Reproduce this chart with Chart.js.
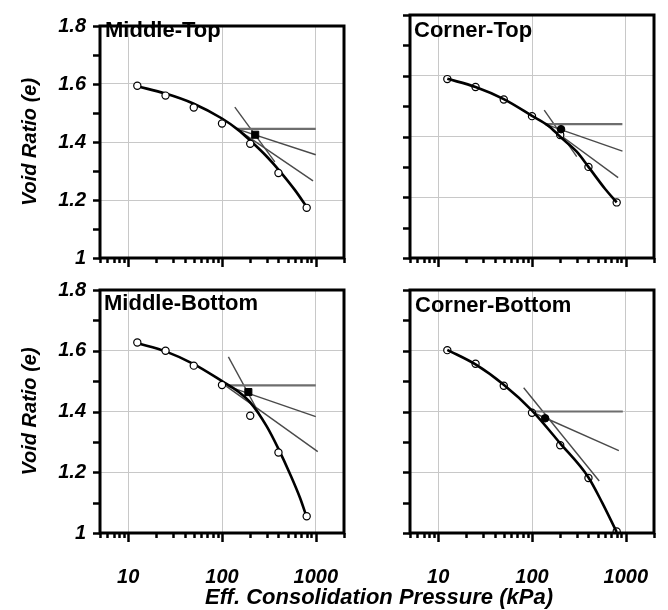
<!DOCTYPE html>
<html>
<head>
<meta charset="utf-8">
<script src="https://cdn.jsdelivr.net/npm/chart.js@4.4.1/dist/chart.umd.min.js"></script>
<style>
html,body{margin:0;padding:0;background:#fff;}
#wrap{position:relative;width:668px;height:610px;overflow:hidden;background:#fff;}
#wrap canvas{position:absolute;left:0;top:0;}
.lab{position:absolute;font-family:"Liberation Sans",Arial,sans-serif;font-weight:bold;font-size:22px;line-height:22px;color:#000;white-space:nowrap;}
#xtitle{position:absolute;left:0;top:586px;width:758px;text-align:center;font-family:"Liberation Sans",Arial,sans-serif;font-weight:bold;font-style:italic;font-size:22px;line-height:22px;color:#000;white-space:nowrap;}
</style>
</head>
<body>
<div id="wrap">
  <canvas id="cMT" width="700" height="640"></canvas>
  <canvas id="cCT" width="700" height="640"></canvas>
  <canvas id="cMB" width="700" height="640"></canvas>
  <canvas id="cCB" width="700" height="640"></canvas>
  <div class="lab" style="left:105px;top:19px;">Middle-Top</div>
  <div class="lab" style="left:414px;top:19px;">Corner-Top</div>
  <div class="lab" style="left:104px;top:292px;">Middle-Bottom</div>
  <div class="lab" style="left:415px;top:294px;">Corner-Bottom</div>
  <div id="xtitle">Eff. Consolidation Pressure (kPa)</div>
</div>
<script>
// ---------- axis ticks ----------
const xTickValues = [5,6,7,8,9,10,20,30,40,50,60,70,80,90,100,200,300,400,500,600,700,800,900,1000,2000];
const xMajorValues = [10,100,1000];
const xMajorLabels = ['10','100','1000'];
const yTickValues = [1,1.1,1.2,1.3,1.4,1.5,1.6,1.7,1.8];
const yLabelValues = [1,1.2,1.4,1.6,1.8];
const yLabels = ['1','1.2','1.4','1.6','1.8'];
const yGridValues = [1.2,1.4,1.6];

// ---------- measured data (pressure kPa, void ratio) ----------
const pressures = [12.5,25,50,100,200,400,800];

// Middle-Top
const mtVoid = [1.594,1.560,1.519,1.464,1.394,1.293,1.173];
const mtCurveP = [12.5,25,50,100,150,200,300,400,600,800];
const mtCurveE = [1.592,1.567,1.532,1.481,1.441,1.405,1.350,1.305,1.234,1.176];
const mtPcP = [226];       const mtPcE = [1.425];
const mtHorP = [143,1000]; const mtHorE = [1.4455,1.4455];
const mtBisP = [143,1000]; const mtBisE = [1.4455,1.356];
const mtTanP = [143,935];  const mtTanE = [1.4455,1.266];
const mtVclP = [137,366];  const mtVclE = [1.520,1.3315];

// Corner-Top
const ctVoid = [1.589,1.563,1.522,1.467,1.405,1.300,1.183];
const ctCurveP = [12.5,25,50,100,150,200,300,400,600,800];
const ctCurveE = [1.590,1.563,1.523,1.468,1.435,1.399,1.350,1.300,1.228,1.183];
const ctPcP = [204];       const ctPcE = [1.424];
const ctHorP = [138,920];  const ctHorE = [1.441,1.441];
const ctBisP = [138,922];  const ctBisE = [1.441,1.352];
const ctTanP = [138,829];  const ctTanE = [1.441,1.2644];
const ctVclP = [135,300];  const ctVclE = [1.487,1.3335];

// Middle-Bottom
const mbVoid = [1.627,1.600,1.551,1.487,1.386,1.265,1.055];
const mbCurveP = [12.5,25,50,100,150,200,300,400,530,680,800];
const mbCurveE = [1.625,1.598,1.556,1.500,1.465,1.430,1.351,1.277,1.195,1.115,1.052];
const mbPcP = [191];       const mbPcE = [1.464];
const mbHorP = [108,1000]; const mbHorE = [1.486,1.486];
const mbBisP = [108,1000]; const mbBisE = [1.486,1.383];
const mbTanP = [108,1050]; const mbTanE = [1.486,1.268];
const mbVclP = [117,254];  const mbVclE = [1.580,1.3885];

// Corner-Bottom
const cbVoid = [1.602,1.557,1.485,1.396,1.289,1.181,1.005];
const cbCurveP = [12.5,25,50,100,200,400,560,800];
const cbCurveE = [1.603,1.555,1.488,1.403,1.295,1.183,1.100,1.003];
const cbPcP = [138];       const cbPcE = [1.3776];
const cbHorP = [97,930];   const cbHorE = [1.40,1.40];
const cbBisP = [97,844];   const cbBisE = [1.40,1.271];
const cbVclP = [81.5,521]; const cbVclE = [1.478,1.171];

// ---------- styling ----------
const FAM = "'Liberation Sans', Arial, sans-serif";
const GRID = '#c8c8c8';
const NONE = 'rgba(0,0,0,0)';
const pts = (xs, ys) => xs.map((x, i) => ({x: x, y: ys[i]}));
const near = (arr, v) => arr.some(t => Math.abs(t - v) < 1e-9);

const framePlugin = {
  id: 'frame',
  afterDraw(chart) {
    const {ctx, chartArea: a, scales: {x, y}} = chart;
    ctx.save();
    ctx.strokeStyle = '#000';
    ctx.lineCap = 'butt';
    ctx.lineWidth = 2.5;
    xTickValues.forEach(v => {
      const px = Math.round(x.getPixelForValue(v)) + 0.5;
      const len = near(xMajorValues, v) ? 9 : 5;
      ctx.beginPath(); ctx.moveTo(px, a.bottom); ctx.lineTo(px, a.bottom + len); ctx.stroke();
    });
    yTickValues.forEach(v => {
      const py = Math.round(y.getPixelForValue(v)) + 0.5;
      ctx.beginPath(); ctx.moveTo(a.left, py); ctx.lineTo(a.left - 7, py); ctx.stroke();
    });
    ctx.lineWidth = 3;
    ctx.strokeRect(a.left, a.top, a.right - a.left, a.bottom - a.top);
    ctx.restore();
  }
};

function lineDs(xs, ys, color, width, order) {
  return {data: pts(xs, ys), showLine: true, borderColor: color, borderWidth: width,
          pointRadius: 0, pointHoverRadius: 0, fill: false, order: order};
}

const CW = 700, CH = 640;

function makePanel(id, c) {
  const ds = [];
  ds.push({data: pts(c.pcP, c.pcE), showLine: false, pointStyle: c.pcStyle,
           pointRadius: c.pcStyle === 'rect' ? 5 : 3.8, backgroundColor: '#000', borderColor: '#000',
           borderWidth: 1, order: 0});
  ds.push({data: pts(pressures, c.voids), showLine: false, pointStyle: 'circle', pointRadius: 3.6,
           backgroundColor: '#fff', borderColor: '#000', borderWidth: 1.2, order: c.curveOnTop ? 3 : 1});
  ds.push({data: pts(c.curveP, c.curveE), showLine: true, borderColor: '#000', borderWidth: 2.6,
           pointRadius: 0, cubicInterpolationMode: 'monotone', fill: false, order: c.curveOnTop ? 1 : 2});
  c.lines.forEach(l => ds.push(lineDs(l[0], l[1], l[2], l[3], 4)));

  const t = c.area;
  const pad = {left: t.left - c.yW, top: t.top, right: CW - t.right, bottom: CH - t.bottom - c.xH};

  const chart = new Chart(document.getElementById(id), {
    type: 'scatter',
    data: {datasets: ds},
    options: {
      responsive: false, animation: false, devicePixelRatio: 1,
      layout: {padding: pad},
      plugins: {legend: {display: false}, tooltip: {enabled: false}, title: {display: false}},
      scales: {
        x: {
          type: 'logarithmic', min: 5, max: 2000, position: 'bottom',
          afterBuildTicks: s => { s.ticks = xTickValues.map(v => ({value: v})); },
          afterFit: s => { s.height = c.xH; },
          border: {display: false},
          grid: {drawTicks: false, lineWidth: 1,
                 color: g => (g.tick && near(xMajorValues, g.tick.value)) ? GRID : NONE},
          ticks: {display: c.showX, autoSkip: false, maxRotation: 0, padding: 32, color: '#000',
                  font: {family: FAM, size: 20, weight: 'bold', style: 'italic'},
                  callback: v => { const i = xMajorValues.findIndex(q => Math.abs(q - v) < 1e-9); return i >= 0 ? xMajorLabels[i] : ''; }}
        },
        y: {
          type: 'linear', min: 1, max: 1.8, position: 'left',
          afterBuildTicks: s => { s.ticks = yTickValues.map(v => ({value: v})); },
          afterFit: s => { s.width = c.yW; },
          border: {display: false},
          grid: {drawTicks: false, lineWidth: 1,
                 color: g => (g.tick && near(yGridValues, g.tick.value)) ? GRID : NONE},
          ticks: {display: c.showY, padding: 14, color: '#000',
                  font: {family: FAM, size: 20, weight: 'bold', style: 'italic'},
                  callback: v => { const i = yLabelValues.findIndex(q => Math.abs(q - v) < 1e-9); return i >= 0 ? yLabels[i] : ''; }},
          title: {display: c.showY, text: 'Void Ratio (e)', color: '#000',
                  font: {family: FAM, size: 20, weight: 'bold', style: 'italic'},
                  padding: {top: 18, bottom: 0}}
        }
      }
    },
    plugins: [framePlugin]
  });
  // correct any layout drift so the plot area lands exactly on the target box
  const a = chart.chartArea;
  const dl = t.left - a.left, dr = a.right - t.right, dt = t.top - a.top, db = a.bottom - t.bottom;
  if (Math.abs(dl) + Math.abs(dr) + Math.abs(dt) + Math.abs(db) > 0.5) {
    chart.options.layout.padding = {left: pad.left + dl, right: pad.right + dr, top: pad.top + dt, bottom: pad.bottom + db};
    chart.update();
  }
}

const HORC = '#6e6e6e', LC = '#4a4a4a';

makePanel('cMT', {area: {left: 100, top: 15, right: 344, bottom: 258}, yW: 100, xH: 0, showX: false, showY: true,
  voids: mtVoid, curveP: mtCurveP, curveE: mtCurveE, pcP: mtPcP, pcE: mtPcE, pcStyle: 'rect', curveOnTop: false,
  lines: [[mtHorP, mtHorE, HORC, 2.2], [mtBisP, mtBisE, LC, 1.4], [mtTanP, mtTanE, LC, 1.4], [mtVclP, mtVclE, LC, 1.4]]});

makePanel('cCT', {area: {left: 410, top: 15, right: 654, bottom: 258}, yW: 10, xH: 0, showX: false, showY: false,
  voids: ctVoid, curveP: ctCurveP, curveE: ctCurveE, pcP: ctPcP, pcE: ctPcE, pcStyle: 'circle', curveOnTop: true,
  lines: [[ctHorP, ctHorE, HORC, 2.2], [ctBisP, ctBisE, LC, 1.4], [ctTanP, ctTanE, LC, 1.4], [ctVclP, ctVclE, LC, 1.4]]});

makePanel('cMB', {area: {left: 100, top: 290, right: 344, bottom: 533}, yW: 100, xH: 77, showX: true, showY: true,
  voids: mbVoid, curveP: mbCurveP, curveE: mbCurveE, pcP: mbPcP, pcE: mbPcE, pcStyle: 'rect', curveOnTop: false,
  lines: [[mbHorP, mbHorE, HORC, 2.2], [mbBisP, mbBisE, LC, 1.4], [mbTanP, mbTanE, LC, 1.4], [mbVclP, mbVclE, LC, 1.4]]});

makePanel('cCB', {area: {left: 410, top: 290, right: 654, bottom: 533}, yW: 10, xH: 77, showX: true, showY: false,
  voids: cbVoid, curveP: cbCurveP, curveE: cbCurveE, pcP: cbPcP, pcE: cbPcE, pcStyle: 'circle', curveOnTop: true,
  lines: [[cbHorP, cbHorE, HORC, 2.2], [cbBisP, cbBisE, LC, 1.4], [cbVclP, cbVclE, LC, 1.4]]});
</script>
</body>
</html>
